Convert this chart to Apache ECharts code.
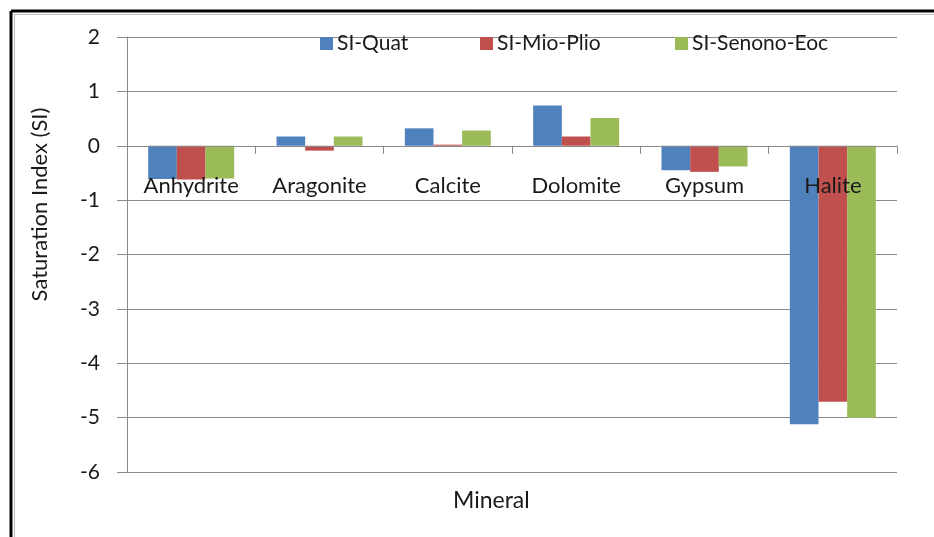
<!DOCTYPE html>
<html>
<head>
<meta charset="utf-8">
<script src="https://cdn.jsdelivr.net/npm/echarts@6/dist/echarts.min.js"></script>
<style>
html,body{margin:0;padding:0;background:#fff;}
#c{width:934px;height:537px;}
</style>
</head>
<body>
<div id="c"></div>
<script>
var categories = ['Anhydrite', 'Aragonite', 'Calcite', 'Dolomite', 'Gypsum', 'Halite'];
var siQuat = [-0.61, 0.17, 0.32, 0.74, -0.45, -5.12];
var siMioPlio = [-0.62, -0.09, 0.02, 0.17, -0.48, -4.71];
var siSenonoEoc = [-0.6, 0.17, 0.28, 0.51, -0.38, -5.0];
var seriesNames = ['SI-Quat', 'SI-Mio-Plio', 'SI-Senono-Eoc'];
var colors = ['#4F81BD', '#C0504D', '#9BBB59'];
var yTicks = {min: -6, max: 2, interval: 1};
var xTitle = 'Mineral';
var yTitle = 'Saturation Index (SI)';

var FONT = 'Lato, "Open Sans", sans-serif';
var TXT = '#1a1a1a';
var chart = echarts.init(document.getElementById('c'), null, {renderer: 'canvas'});
var gridColor = '#8a8a8a';

function legendAt(name, left) {
  return {
    data: [name], left: left, top: 33, padding: 0, itemWidth: 13, itemHeight: 13,
    icon: 'rect', itemGap: 0,
    textStyle: {fontFamily: FONT, fontSize: 21, color: TXT, padding: [0, 0, 0, -1]}
  };
}

chart.setOption({
  animation: false,
  backgroundColor: '#fff',
  color: colors,
  textStyle: {fontFamily: FONT},
  title: {
    text: xTitle, left: 453, top: 489, padding: 0,
    textStyle: {fontFamily: FONT, fontSize: 23, fontWeight: 'normal', color: TXT}
  },
  graphic: [
    {type: 'line', shape: {x1: 11, y1: 11, x2: 11, y2: 537}, style: {stroke: '#000', lineWidth: 3}},
    {type: 'line', shape: {x1: 11, y1: 11, x2: 934, y2: 11}, style: {stroke: '#000', lineWidth: 3}},
    {type: 'line', shape: {x1: 14.5, y1: 14.5, x2: 14.5, y2: 537}, style: {stroke: '#bbb', lineWidth: 1}},
    {type: 'line', shape: {x1: 14.5, y1: 14.5, x2: 934, y2: 14.5}, style: {stroke: '#bbb', lineWidth: 1}}
  ],
  legend: [
    legendAt(seriesNames[0], 320),
    legendAt(seriesNames[1], 480),
    legendAt(seriesNames[2], 675)
  ],
  grid: {left: 127, right: 37, top: 37, bottom: 65, containLabel: false, outerBoundsMode: 'none'},
  xAxis: {
    type: 'category',
    data: categories,
    z: 5,
    axisLine: {onZero: true, lineStyle: {color: gridColor, width: 1}},
    axisTick: {show: true, length: 8, lineStyle: {color: gridColor}},
    axisLabel: {fontFamily: FONT, fontSize: 22, color: TXT, margin: -297, interval: 0, hideOverlap: false}
  },
  yAxis: {
    type: 'value',
    min: yTicks.min, max: yTicks.max, interval: yTicks.interval,
    name: yTitle,
    nameLocation: 'middle',
    nameGap: 76,
    nameRotate: 90,
    nameTextStyle: {fontFamily: FONT, fontSize: 22, color: TXT, padding: [0, 0, 0, 100]},
    axisLine: {show: true, lineStyle: {color: gridColor, width: 1}},
    axisTick: {show: true, length: 10, lineStyle: {color: gridColor}},
    axisLabel: {fontFamily: FONT, fontSize: 21, color: TXT, margin: 27},
    splitLine: {show: true, lineStyle: {color: gridColor, width: 1}}
  },
  series: [
    {name: seriesNames[0], type: 'bar', data: siQuat, barGap: '0%', barCategoryGap: '33%'},
    {name: seriesNames[1], type: 'bar', data: siMioPlio, barGap: '0%', barCategoryGap: '33%'},
    {name: seriesNames[2], type: 'bar', data: siSenonoEoc, barGap: '0%', barCategoryGap: '33%'}
  ]
});
</script>
</body>
</html>
